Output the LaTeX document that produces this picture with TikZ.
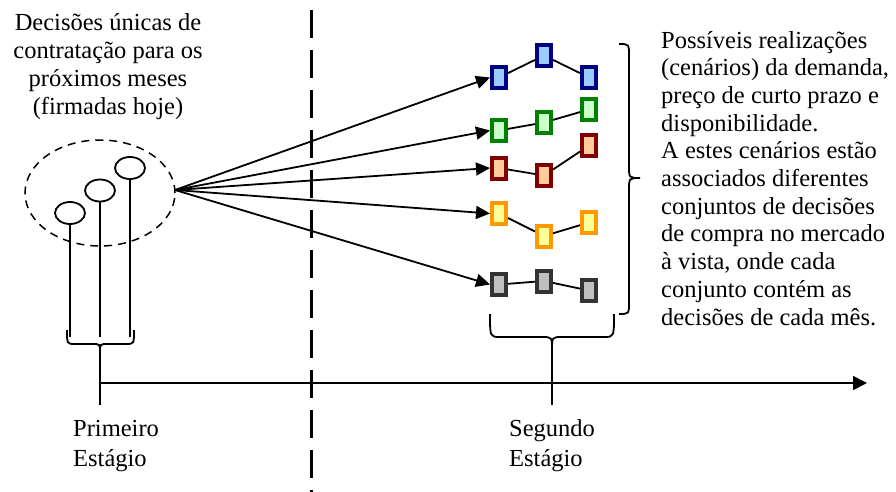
\documentclass[tikz,border=0pt]{standalone}
\usepackage{fontspec}
\setmainfont{Liberation Serif}
\usetikzlibrary{arrows.meta,shapes.geometric}
\definecolor{bluebd}{RGB}{0,0,128}\definecolor{bluefl}{RGB}{153,204,255}
\definecolor{greenbd}{RGB}{0,128,0}\definecolor{greenfl}{RGB}{204,255,204}
\definecolor{redbd}{RGB}{128,0,0}\definecolor{redfl}{RGB}{255,204,153}
\definecolor{yelbd}{RGB}{255,153,0}\definecolor{yelfl}{RGB}{255,255,153}
\definecolor{graybd}{RGB}{51,51,51}\definecolor{grayfl}{RGB}{192,192,192}
\tikzset{
  txt/.style={font=\fontsize{24.5}{27.7}\selectfont, inner sep=0pt},
  txtb/.style={font=\fontsize{24.5}{30}\selectfont, inner sep=0pt},
  sbox/.style={draw=#1bd, fill=#1fl, line width=4pt, minimum width=14pt, minimum height=21pt, inner sep=0pt},
  link/.style={line width=1.8pt},
  arr/.style={line width=1.8pt, -{Triangle[length=14pt,width=13pt]}},
  dec/.style={draw, line width=1.8pt, ellipse, minimum width=30pt, minimum height=22pt, inner sep=0pt},
  brc/.style={line width=1.8pt},
}
\begin{document}
\begin{tikzpicture}[x=1pt,y=-1pt]
\useasboundingbox (0,0) rectangle (896,492);
% texts (base anchor = baseline of the last line)
\node[txt, align=center, anchor=base] (t1) at (108,114) {Decisões únicas de\\contratação para os\\próximos meses\\(firmadas hoje)};
\node[txt, align=left, anchor=base west] (t2) at (661,325) {Possíveis realizações\\(cenários) da demanda,\\preço de curto prazo e\\disponibilidade.\\A estes cenários estão\\associados diferentes\\conjuntos de decisões\\de compra no mercado\\à vista, onde cada\\conjunto contém as\\decisões de cada mês.};
\node[txtb, align=left, anchor=base west] (t3) at (73,466) {Primeiro\\Estágio};
\node[txtb, align=left, anchor=base west] (t4) at (509,466) {Segundo\\Estágio};
% stage separator
\coordinate (s1) at (311,10); \coordinate (s2) at (311,492);
\draw[line width=3pt, dash pattern=on 28pt off 12pt] (s1) -- (s2);
% first stage group
\node[draw, ellipse, line width=1.5pt, dash pattern=on 8pt off 6pt, minimum width=150pt, minimum height=106pt] (grp) at (100,193) {};
\node[dec] (e1) at (70,213) {};
\node[dec] (e2) at (100,190.5) {};
\node[dec] (e3) at (130,168) {};
\coordinate (l1) at (70,337); \coordinate (l2) at (100,337); \coordinate (l3) at (130,337);
\draw[link] (e1.south) -- (l1);
\draw[link] (e2.south) -- (l2);
\draw[link] (e3.south) -- (l3);
% first brace
\coordinate (b1c) at (100,352);
\coordinate (tk1) at (100,405);
\draw[brc] (67,330) .. controls (67,344) .. (75,344) -- (92,344) .. controls (100,344) .. (b1c)
           .. controls (100,344) .. (108,344) -- (126,344) .. controls (134,344) .. (134,330);
\draw[brc] (b1c) -- (tk1);
% axis
\coordinate (ax0) at (100,383); \coordinate (ax1) at (867,383);
\draw[line width=1.8pt, -{Triangle[length=14pt,width=14pt]}] (ax0) -- (ax1);
% scenario boxes
\node[sbox=blue] (a1) at (499,77.5) {};
\node[sbox=blue] (a2) at (544,55.5) {};
\node[sbox=blue] (a3) at (589,77.5) {};
\node[sbox=green] (g1) at (499,130.5) {};
\node[sbox=green] (g2) at (544,122.5) {};
\node[sbox=green] (g3) at (589,109.5) {};
\node[sbox=red] (r1) at (499,168) {};
\node[sbox=red] (r2) at (544,175.5) {};
\node[sbox=red] (r3) at (589,145.5) {};
\node[sbox=yel] (y1) at (499,213.5) {};
\node[sbox=yel] (y2) at (544,236) {};
\node[sbox=yel] (y3) at (589,222.5) {};
\node[sbox=gray] (k1) at (499,284.5) {};
\node[sbox=gray] (k2) at (544,281) {};
\node[sbox=gray] (k3) at (589,290.5) {};
\draw[link] (a1) -- (a2) -- (a3);
\draw[link] (g1) -- (g2) -- (g3);
\draw[link] (r1) -- (r2) -- (r3);
\draw[link] (y1) -- (y2) -- (y3);
\draw[link] (k1) -- (k2) -- (k3);
% arrows
\coordinate (o) at (175,190);
\draw[arr] (o) -- (a1.west);
\draw[arr] (o) -- (g1.west);
\draw[arr] (o) -- (r1.west);
\draw[arr] (o) -- (y1.west);
\draw[arr] (o) -- (k1.west);
% right brace
\draw[brc] (619,44) .. controls (629,44) .. (629,56) -- (629,166) .. controls (629,178) .. (640,178)
           .. controls (629,178) .. (629,190) -- (629,302) .. controls (629,314) .. (619,314);
% second brace
\coordinate (b2c) at (552,350);
\coordinate (tk2) at (552,405);
\draw[brc] (490,314) .. controls (490,337) .. (500,337) -- (542,337) .. controls (552,337) .. (b2c)
           .. controls (552,337) .. (562,337) -- (604,337) .. controls (614,337) .. (614,314);
\draw[brc] (b2c) -- (tk2);
\end{tikzpicture}
\end{document}
